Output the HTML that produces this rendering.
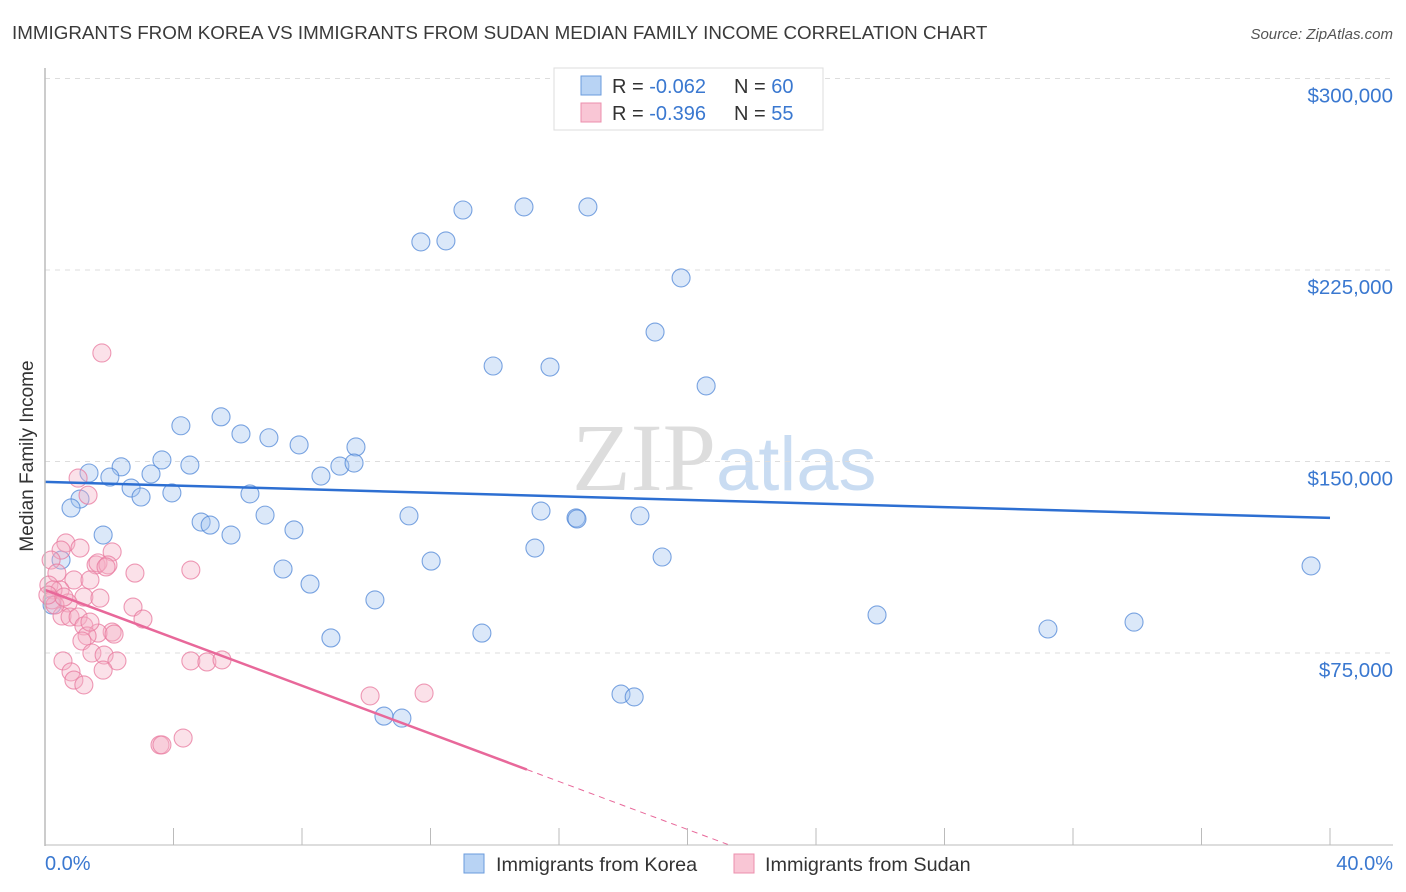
<!DOCTYPE html>
<html><head><meta charset="utf-8"><style>
body{margin:0;background:#fff;font-family:"Liberation Sans",sans-serif}
#wrap{position:relative;width:1406px;height:892px;overflow:hidden}
</style></head><body>
<div id="wrap">
<svg id="svg" width="1406" height="892" xmlns="http://www.w3.org/2000/svg">
<text x="12" y="39" font-size="18.8" fill="#3a3a3a">IMMIGRANTS FROM KOREA VS IMMIGRANTS FROM SUDAN MEDIAN FAMILY INCOME CORRELATION CHART</text>
<text x="1393" y="39" font-size="15" fill="#555" font-style="italic" text-anchor="end">Source: ZipAtlas.com</text>
<text x="33" y="456" font-size="19" fill="#333" text-anchor="middle" transform="rotate(-90 33 456)">Median Family Income</text>
<text x="716" y="490" font-size="96" fill="#ddd" font-family="Liberation Serif,serif" text-anchor="end">ZIP</text>
<text x="716" y="490" font-size="76" fill="#c9dcf2">atlas</text>
<g id="grid"></g><g id="pts"></g><g id="lines"></g>
<line x1="45" y1="68" x2="45" y2="846" stroke="#bbb" stroke-width="1.5"/>
<line x1="45" y1="845" x2="1393" y2="845" stroke="#bbb" stroke-width="1"/>
<text x="45" y="870" font-size="20" fill="#3a78d0">0.0%</text>
<text x="1393" y="870" font-size="20" fill="#3a78d0" text-anchor="end">40.0%</text>
<g>
<rect x="554" y="68" width="269" height="62" fill="#fff" stroke="#ddd"/>
<rect x="581" y="76" width="20" height="19" fill="#b8d3f4" stroke="#6a9bdc"/>
<rect x="581" y="103" width="20" height="19" fill="#f9c6d5" stroke="#ec8fad"/>
<text x="612" y="93" font-size="20" fill="#333">R = <tspan fill="#3a78d0">-0.062</tspan><tspan x="734">N = </tspan><tspan fill="#3a78d0">60</tspan></text>
<text x="612" y="120" font-size="20" fill="#333">R = <tspan fill="#3a78d0">-0.396</tspan><tspan x="734">N = </tspan><tspan fill="#3a78d0">55</tspan></text>
</g>
<g>
<rect x="464" y="854" width="20" height="19" fill="#b8d3f4" stroke="#6a9bdc"/>
<text x="496" y="871" font-size="19.8" fill="#333">Immigrants from Korea</text>
<rect x="734" y="854" width="20" height="19" fill="#f9c6d5" stroke="#ec8fad"/>
<text x="765" y="871" font-size="19.8" fill="#333">Immigrants from Sudan</text>
</g>
</svg>
</div>
<script>
const yTicks=[75,150,225,300];
const yTickLabels=["$75,000","$150,000","$225,000","$300,000"];
const xTicks=[0,4,8,12,16,20,24,28,32,36,40];
const koreaX=[13.01,14.91,16.90,11.70,12.48,19.80,18.99,13.95,15.72,20.58,4.23,5.48,6.10,6.97,7.91,9.68,2.37,3.64,4.51,3.30,1.37,2.02,2.68,2.99,1.09,3.95,6.38,8.59,9.18,9.62,0.81,4.86,5.14,5.79,6.85,7.75,11.33,15.44,16.53,16.56,18.52,1.81,15.25,19.21,0.50,7.41,12.02,8.25,10.27,0.22,8.90,13.60,25.90,31.22,33.90,39.41,17.93,18.34,10.55,11.11];
const koreaY=[248.5,249.7,249.7,236.0,236.4,221.9,200.7,187.4,187.0,179.6,164.0,167.5,160.8,159.3,156.5,155.7,147.9,150.6,148.6,145.1,145.5,143.9,139.6,136.1,135.3,137.7,137.3,144.3,148.2,149.4,131.8,126.3,125.1,121.2,129.0,123.2,128.7,130.6,127.9,127.5,128.7,121.2,116.1,112.6,111.4,107.9,111.0,102.0,95.8,93.8,80.9,82.8,89.9,84.4,87.1,109.1,58.9,57.8,50.3,49.5];
const sudanX=[1.77,1.03,1.34,0.65,0.50,2.09,0.19,1.59,1.65,1.96,1.90,2.80,4.54,0.37,0.90,1.40,0.12,0.47,0.25,1.21,1.71,2.74,0.72,3.05,0.53,0.78,1.03,1.21,2.09,1.65,1.31,2.15,1.15,1.46,1.84,0.56,2.24,4.54,5.04,5.51,0.81,1.81,0.90,1.21,10.12,11.80,3.58,3.64,4.30,0.22,0.31,0.09,0.59,1.09,1.40];
const sudanY=[192.5,143.5,136.8,118.1,115.3,114.6,111.4,109.5,110.3,109.5,108.7,106.3,107.5,106.3,103.6,103.6,101.6,99.7,99.7,96.9,96.5,93.0,94.6,88.3,89.5,89.1,89.1,85.6,83.2,82.8,81.7,82.4,79.7,75.0,74.2,71.9,71.9,71.9,71.5,72.3,67.6,68.3,64.4,62.5,58.2,59.3,39.0,39.0,41.7,95.8,93.8,97.7,96.9,116.1,87.1];
const koreaTrend=[142.0,127.9];   // value at 0% and 40%
const sudanTrend=[99.7,-4.69];    // intercept, slope per %
const sx=v=>45+v*32.125;
const sy=v=>844.5-v*191.5/75;
const NS="http://www.w3.org/2000/svg";
function mk(t,a,p){const e=document.createElementNS(NS,t);for(const k in a)e.setAttribute(k,a[k]);p.appendChild(e);return e;}
const grid=document.getElementById('grid');
yTicks.forEach((t,i)=>{
 const l=mk('line',{x1:45,x2:1393,y1:sy(t),y2:sy(t),stroke:'#ddd','stroke-dasharray':'5,5'},grid);
 
 
 const tx=mk('text',{x:1393,y:sy(t)+24,'font-size':20.5,fill:'#3a78d0','text-anchor':'end'},grid);
 tx.textContent=yTickLabels[i];
 
 
});
xTicks.forEach(t=>{
 const l=mk('line',{x1:sx(t),x2:sx(t),y1:828,y2:845,stroke:'#bbb'},grid);
 
 
});
const pts=document.getElementById('pts');
koreaX.forEach((x,i)=>{
 const c=mk('circle',{cx:sx(x),cy:sy(koreaY[i]),r:9,fill:'rgba(160,195,240,0.38)',stroke:'rgba(80,135,215,0.75)','stroke-width':1.1},pts);
 
 
});
sudanX.forEach((x,i)=>{
 const c=mk('circle',{cx:sx(x),cy:sy(sudanY[i]),r:9,fill:'rgba(245,175,198,0.38)',stroke:'rgba(232,120,158,0.75)','stroke-width':1.1},pts);
 
 
});
const lines=document.getElementById('lines');
const kl=mk('line',{x1:sx(0),y1:sy(koreaTrend[0]),x2:sx(40),y2:sy(koreaTrend[1]),stroke:'#2d6fd2','stroke-width':2.5},lines);


const sEnd=15, zero=-sudanTrend[0]/sudanTrend[1];
const s1=mk('line',{x1:sx(0),y1:sy(sudanTrend[0]),x2:sx(sEnd),y2:sy(sudanTrend[0]+sudanTrend[1]*sEnd),stroke:'#e8689a','stroke-width':2.5},lines);


const s2=mk('line',{x1:sx(sEnd),y1:sy(sudanTrend[0]+sudanTrend[1]*sEnd),x2:sx(zero),y2:sy(0),stroke:'#e8689a','stroke-width':1,'stroke-dasharray':'6,5'},lines);


</script>
</body></html>
